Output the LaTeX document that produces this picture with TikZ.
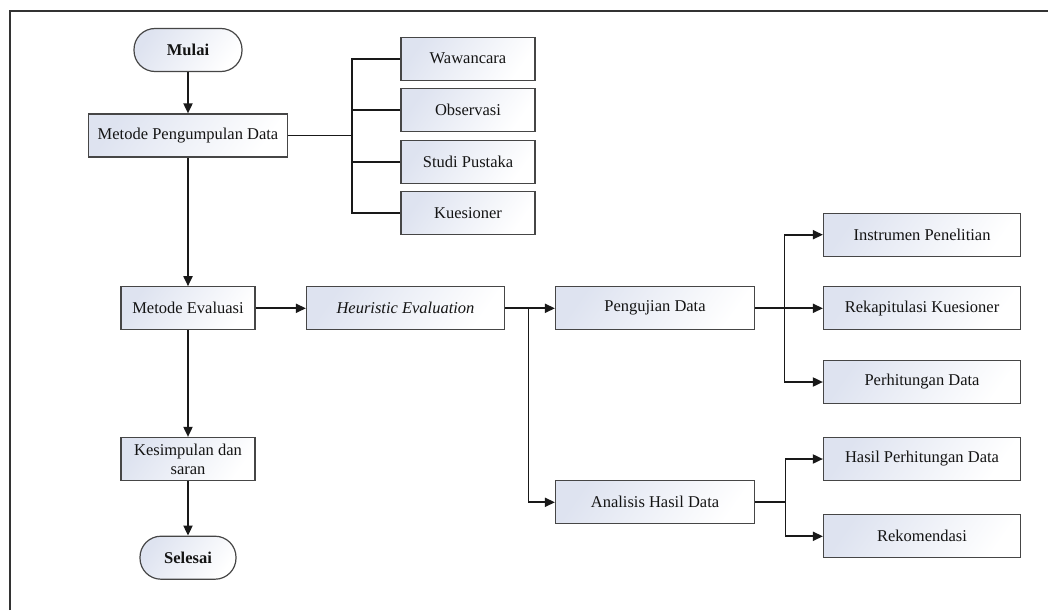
\documentclass[tikz,border=0pt]{standalone}
\usepackage{fontspec}
\setmainfont{Liberation Serif}
\usetikzlibrary{arrows.meta}
\definecolor{boxl}{RGB}{222,227,240}
\definecolor{boxborder}{RGB}{70,70,70}
\definecolor{txt}{RGB}{20,20,20}
\begin{document}
\begin{tikzpicture}[x=1pt,y=-1pt,
  every node/.style={font=\fontsize{16.5}{19}\selectfont, text=txt},
  procbox/.style={draw=boxborder, line width=1.2pt, top color=boxl, bottom color=white, shading angle=55,
    minimum height=43pt, inner sep=2pt, align=center},
  termbox/.style={procbox, rounded corners=21pt, font=\fontsize{16.5}{19}\selectfont\bfseries},
  arr/.style={line width=1.8pt, draw=black!90, -{Triangle[length=10pt,width=9pt]}},
  lin/.style={line width=1.8pt, draw=black!90}
]
\useasboundingbox (0,0) rectangle (1048,610);
\fill[white] (0,0) rectangle (1048,610);
% frame (top and left edges only visible)
\draw[line width=1.6pt, draw=black!80] (10,610) -- (10,11) -- (1048,11);

% left column
\node[termbox, minimum width=108pt] (mulai) at (188,50) {Mulai};
\node[procbox, minimum width=199pt] (mpd) at (188,135.5) {Metode Pengumpulan Data};
\node[procbox, minimum width=134pt] (me) at (188,308.3) {Metode Evaluasi};
\node[procbox, minimum width=134pt] (kes) at (188,459) {Kesimpulan dan\\saran};
\node[termbox, minimum width=96pt] (selesai) at (188,557.7) {Selesai};

% data collection methods
\node[procbox, minimum width=134pt] (waw) at (468,58.7) {Wawancara};
\node[procbox, minimum width=134pt] (obs) at (468,109.7) {Observasi};
\node[procbox, minimum width=134pt] (stu) at (468,161.7) {Studi Pustaka};
\node[procbox, minimum width=134pt] (kue) at (468,212.7) {Kuesioner};

% evaluation
\node[procbox, minimum width=198pt] (he) at (405.5,308.3) {\itshape Heuristic Evaluation};
\node[procbox, minimum width=199pt] (uji) at (655,308.3) {Pengujian Data};
\node[procbox, minimum width=199pt] (ana) at (655,502.3) {Analisis Hasil Data};

\node[procbox, minimum width=197pt] (ins) at (922,234.7) {Instrumen Penelitian};
\node[procbox, minimum width=197pt] (rek) at (922,308.3) {Rekapitulasi Kuesioner};
\node[procbox, minimum width=197pt] (per) at (922,382) {Perhitungan Data};
\node[procbox, minimum width=197pt] (has) at (922,459) {Hasil Perhitungan Data};
\node[procbox, minimum width=197pt] (rko) at (922,536.3) {Rekomendasi};

% junction coordinates
\coordinate (bus) at (352,135.5);
\coordinate (j1) at (528.5,308.3);
\coordinate (j2) at (784.5,308.3);
\coordinate (j3) at (785.5,502.3);

% main flow
\draw[arr] (mulai) -- (mpd);
\draw[arr] (mpd) -- (me);
\draw[arr] (me) -- (kes);
\draw[arr] (kes) -- (selesai);

% data collection bus
\draw[lin] (mpd.east) -- (bus);
\draw[lin] (waw.west) -| (bus) |- (kue.west);
\draw[lin] (obs.west) -- (obs.west -| bus);
\draw[lin] (stu.west) -- (stu.west -| bus);

% evaluation flow
\draw[arr] (me) -- (he);
\draw[arr] (he) -- (uji);
\draw[arr] (j1) |- (ana.west);

\draw[arr] (uji) -- (rek);
\draw[arr] (j2) |- (ins.west);
\draw[arr] (j2) |- (per.west);

\draw[lin] (ana.east) -- (j3);
\draw[arr] (j3) |- (has.west);
\draw[arr] (j3) |- (rko.west);
\end{tikzpicture}
\end{document}
